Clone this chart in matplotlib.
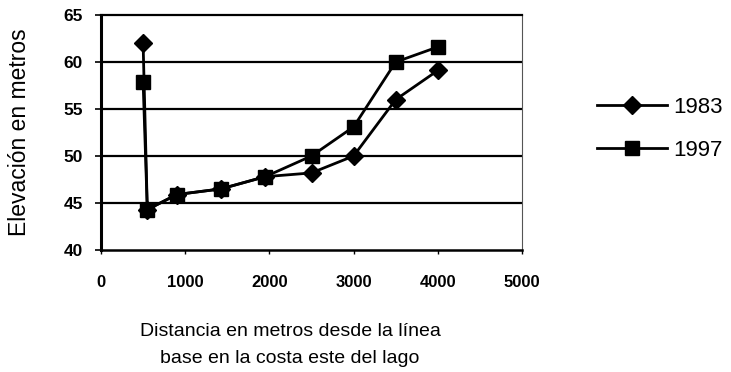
import matplotlib
matplotlib.use('Agg')
import matplotlib.pyplot as plt

plt.rcParams['font.family'] = ['Liberation Sans', 'DejaVu Sans']

# distance from the base line (m) and elevation (m)
dist = [500, 550, 900, 1425, 1950, 2500, 3000, 3500, 4000]
elev_1983 = [62.0, 44.3, 45.9, 46.5, 47.8, 48.2, 50.0, 56.0, 59.1]
elev_1997 = [57.9, 44.3, 45.9, 46.5, 47.8, 50.0, 53.1, 60.0, 61.6]

x_ticks = [0, 1000, 2000, 3000, 4000, 5000]
y_ticks = [40, 45, 50, 55, 60, 65]

fig = plt.figure(figsize=(7.31, 3.72), dpi=100)
ax = fig.add_axes([101 / 731, 1 - 250 / 372, 421 / 731, 235 / 372])

for y in y_ticks[1:-1]:
    ax.axhline(y, color='black', linewidth=1.6, zorder=1)

ax.plot(dist, elev_1983, color='black', linewidth=2, marker='D',
        markersize=9, label='1983', zorder=3)
ax.plot(dist, elev_1997, color='black', linewidth=2, marker='s',
        markersize=10, label='1997', zorder=3)

ax.set_xlim(0, 5000)
ax.set_ylim(40, 65)
ax.set_xticks(x_ticks)
ax.set_yticks(y_ticks)

ax.spines['left'].set_linewidth(2.2)
ax.spines['bottom'].set_linewidth(1.8)
ax.spines['top'].set_linewidth(1.6)
ax.spines['right'].set_linewidth(0.8)
ax.spines['right'].set_color('#555555')

ax.tick_params(axis='x', length=3, width=1, pad=15, labelsize=12)
ax.tick_params(axis='y', length=4, width=1.2, pad=9, labelsize=12.5)
for lab in ax.get_xticklabels() + ax.get_yticklabels():
    lab.set_fontweight('bold')

fig.text(20 / 731, 1 - 132 / 372, 'Elevación en metros', rotation=90,
         ha='center', va='center', fontsize=16.5)
fig.text(290 / 731, 1 - 345 / 372,
         'Distancia en metros desde la línea\nbase en la costa este del lago',
         ha='center', va='center', fontsize=14, linespacing=1.7)

ax.legend(loc='center left', bbox_to_anchor=(597 / 731, 1 - 129 / 372),
          bbox_transform=fig.transFigure, frameon=False, fontsize=16,
          handlelength=3.15, handletextpad=0.3, labelspacing=1.0,
          borderpad=0, borderaxespad=0)

fig.savefig('out.png', dpi=100)
